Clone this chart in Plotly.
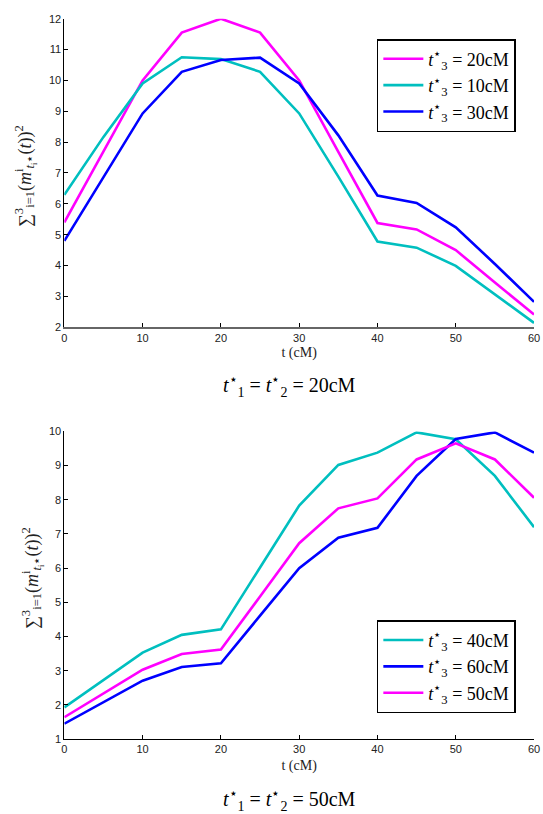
import plotly.graph_objects as go

t = [0, 5, 10, 15, 20, 25, 30, 35, 40, 45, 50, 55, 60]

# Top panel (t1* = t2* = 20cM)
top_20 = [5.40, 7.68, 10.0, 11.55, 12.0, 11.55, 10.0, 7.68, 5.38, 5.17, 4.50, 3.45, 2.41]
top_10 = [6.29, 8.17, 9.90, 10.75, 10.69, 10.28, 8.93, 6.88, 4.78, 4.58, 3.99, 3.08, 2.14]
top_30 = [4.80, 6.88, 8.93, 10.28, 10.66, 10.74, 9.90, 8.22, 6.27, 6.03, 5.24, 4.05, 2.82]

# Bottom panel (t1* = t2* = 50cM)
bot_40 = [1.93, 2.72, 3.53, 4.05, 4.21, 6.02, 7.83, 9.02, 9.38, 9.97, 9.77, 8.70, 7.20]
bot_60 = [1.45, 2.08, 2.71, 3.11, 3.22, 4.61, 6.00, 6.89, 7.18, 8.70, 9.78, 9.97, 9.38]
bot_50 = [1.64, 2.33, 3.03, 3.49, 3.62, 5.17, 6.73, 7.75, 8.04, 9.18, 9.65, 9.18, 8.06]

MAG = "#FF00FF"
CYA = "#00BFBF"
BLU = "#0000FF"
SERIF = "Liberation Serif"
SANS = "Liberation Sans"

def lab(v):
    return "<i>t</i><sup>⋆</sup><sub>3</sub> = " + v + "cM"

fig = go.Figure()
fig.add_trace(go.Scatter(x=t, y=top_20, mode="lines", line=dict(color=MAG, width=2.6),
                         name=lab("20"), xaxis="x", yaxis="y", legend="legend"))
fig.add_trace(go.Scatter(x=t, y=top_10, mode="lines", line=dict(color=CYA, width=2.6),
                         name=lab("10"), xaxis="x", yaxis="y", legend="legend"))
fig.add_trace(go.Scatter(x=t, y=top_30, mode="lines", line=dict(color=BLU, width=2.6),
                         name=lab("30"), xaxis="x", yaxis="y", legend="legend"))

fig.add_trace(go.Scatter(x=t, y=bot_40, mode="lines", line=dict(color=CYA, width=2.6),
                         name=lab("40"), xaxis="x2", yaxis="y2", legend="legend2"))
fig.add_trace(go.Scatter(x=t, y=bot_60, mode="lines", line=dict(color=BLU, width=2.6),
                         name=lab("60"), xaxis="x2", yaxis="y2", legend="legend2"))
fig.add_trace(go.Scatter(x=t, y=bot_50, mode="lines", line=dict(color=MAG, width=2.6),
                         name=lab("50"), xaxis="x2", yaxis="y2", legend="legend2"))

axis_common = dict(showgrid=False, zeroline=False, showline=True, linecolor="black", linewidth=1,
                   ticks="inside", ticklen=4, tickcolor="black", mirror=False, automargin=False,
                   tickfont=dict(family=SANS, size=11, color="#222"))

fig.update_layout(
    width=543, height=814,
    margin=dict(l=0, r=0, t=0, b=0, pad=0, autoexpand=False),
    paper_bgcolor="white", plot_bgcolor="white",
    xaxis=dict(domain=[0.1185, 0.9835], range=[0, 60], tickvals=[0, 10, 20, 30, 40, 50, 60],
               anchor="y", title=dict(text="t (cM)", font=dict(family=SERIF, size=14, color="#222"), standoff=4),
               **{**axis_common, "linecolor": "#666", "linewidth": 1.5}),
    yaxis=dict(domain=[0.598, 0.977], range=[2, 12], tickvals=list(range(2, 13)), anchor="x",
               **axis_common),
    xaxis2=dict(domain=[0.1185, 0.9835], range=[0, 60], tickvals=[0, 10, 20, 30, 40, 50, 60],
                anchor="y2", title=dict(text="t (cM)", font=dict(family=SERIF, size=14, color="#222"), standoff=5),
                **axis_common),
    yaxis2=dict(domain=[0.092, 0.470], range=[1, 10], tickvals=list(range(1, 11)), anchor="x2",
                **axis_common),
    legend=dict(x=0.694, y=0.952, xanchor="left", yanchor="top", bgcolor="white",
                bordercolor="black", borderwidth=1.5, font=dict(family=SERIF, size=18, color="black"),
                tracegroupgap=0, itemwidth=40),
    legend2=dict(x=0.694, y=0.238, xanchor="left", yanchor="top", bgcolor="white",
                 bordercolor="black", borderwidth=1.5, font=dict(family=SERIF, size=18, color="black"),
                 tracegroupgap=0, itemwidth=40),
    showlegend=True,
)

ylab = "∑<sup>3</sup><sub>i=1</sub>(<i>m</i><sup>i</sup><sub><i>t</i><sub>i</sub>⋆</sub>(<i>t</i>))<sup>2</sup>"
fig.add_annotation(text=ylab, xref="paper", yref="paper", x=25 / 543, y=1 - 176 / 814, textangle=-90,
                   xanchor="center", yanchor="middle",
                   showarrow=False, font=dict(family=SERIF, size=18, color="#222"))
fig.add_annotation(text=ylab, xref="paper", yref="paper", x=32 / 543, y=1 - 578 / 814, textangle=-90,
                   xanchor="center", yanchor="middle",
                   showarrow=False, font=dict(family=SERIF, size=18, color="#222"))

cap1 = "<i>t</i><sup>⋆</sup><sub>1</sub> = <i>t</i><sup>⋆</sup><sub>2</sub> = 20cM"
cap2 = "<i>t</i><sup>⋆</sup><sub>1</sub> = <i>t</i><sup>⋆</sup><sub>2</sub> = 50cM"
fig.add_annotation(text=cap1, xref="paper", yref="paper", x=0.533, y=1 - 386 / 814,
                   xanchor="center", yanchor="middle",
                   showarrow=False, font=dict(family=SERIF, size=20, color="black"))
fig.add_annotation(text=cap2, xref="paper", yref="paper", x=0.533, y=1 - 800 / 814,
                   xanchor="center", yanchor="middle",
                   showarrow=False, font=dict(family=SERIF, size=20, color="black"))

fig.write_html("out.html", config={"displayModeBar": False},
               post_script="document.body.style.margin='0';document.body.style.overflow='hidden';")
